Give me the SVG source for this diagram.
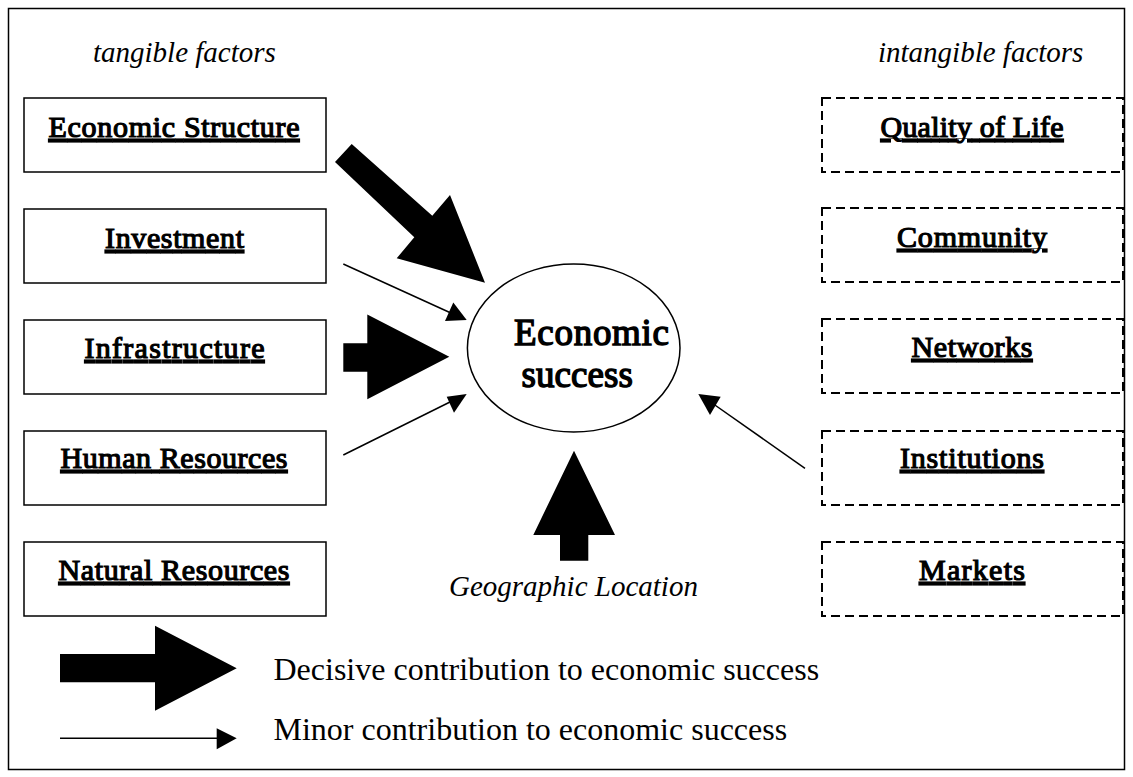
<svg xmlns="http://www.w3.org/2000/svg" width="1133" height="777" viewBox="0 0 1133 777">
<style>
text{font-family:"Liberation Serif","Times New Roman",serif;fill:#000}
.lbl{font-size:30px;text-decoration:underline;text-anchor:middle;stroke:#000;stroke-width:1.2}
.big{font-size:37px;stroke:#000;stroke-width:1.4}
.it{font-size:29px;font-style:italic}
.leg{font-size:32px}
.box{fill:#fff;stroke:#000;stroke-width:1.5}
.dbox{fill:#fff;stroke:#000;stroke-width:2;stroke-dasharray:9 5}
.thin{stroke:#000;stroke-width:1.5;fill:none}
.head{fill:#000}
</style>
<rect x="8.5" y="8.5" width="1116" height="761" fill="#fff" stroke="#000" stroke-width="1.5"/>
<text class="it" x="93" y="62">tangible factors</text>
<text class="it" x="878" y="62">intangible factors</text>
<g id="n-economic-structure"><rect class="box" x="24" y="98" width="302" height="74"/><text class="lbl" x="174" y="137" textLength="251">Economic Structure</text></g>
<g id="n-investment"><rect class="box" x="24" y="209" width="302" height="74"/><text class="lbl" x="174.5" y="248" textLength="139">Investment</text></g>
<g id="n-infrastructure"><rect class="box" x="24" y="320" width="302" height="74"/><text class="lbl" x="174.5" y="358" textLength="180">Infrastructure</text></g>
<g id="n-human-resources"><rect class="box" x="24" y="431" width="302" height="74"/><text class="lbl" x="174" y="468" textLength="227">Human Resources</text></g>
<g id="n-natural-resources"><rect class="box" x="24" y="542" width="302" height="74"/><text class="lbl" x="174" y="580" textLength="231">Natural Resources</text></g>
<g id="n-quality-of-life"><rect class="dbox" x="822" y="98" width="301" height="74"/><text class="lbl" x="972" y="137" textLength="183">Quality of Life</text></g>
<g id="n-community"><rect class="dbox" x="822" y="208" width="301" height="74"/><text class="lbl" x="972" y="247" textLength="150">Community</text></g>
<g id="n-networks"><rect class="dbox" x="822" y="319" width="301" height="74"/><text class="lbl" x="972" y="357" textLength="121">Networks</text></g>
<g id="n-institutions"><rect class="dbox" x="822" y="431" width="301" height="74"/><text class="lbl" x="972" y="468" textLength="144">Institutions</text></g>
<g id="n-markets"><rect class="dbox" x="822" y="542" width="301" height="74"/><text class="lbl" x="972" y="580" textLength="106">Markets</text></g>
<g id="n-economic-success"><ellipse cx="573.7" cy="348" rx="106.3" ry="84" fill="#fff" stroke="#000" stroke-width="1.5"/>
<text class="big" x="514" y="345" textLength="155">Economic</text>
<text class="big" x="521.5" y="386.5" textLength="111.5">success</text></g>
<g id="n-geographic-location"><text class="it" x="449" y="596">Geographic Location</text></g>
<g id="connectors">
<polygon class="head" points="335,162 351.7,144 432.3,215.7 450,195 485,282.7 396.7,258.3 414.3,237.3"/>
<line class="thin" x1="343.3" y1="264" x2="452" y2="313.5"/>
<polygon class="head" points="453.3,302.5 466.7,320 445,321"/>
<polygon class="head" points="343.3,343.3 367.3,343.3 367.3,314.5 449.3,356.7 367.3,399.3 367.3,371.7 343.3,371.7"/>
<line class="thin" x1="343.3" y1="455" x2="452" y2="401"/>
<polygon class="head" points="446.7,396.7 466.7,394 454,412.7"/>
<line class="thin" x1="805" y1="468.3" x2="712" y2="403"/>
<polygon class="head" points="698.3,394 720.7,396.7 710,415"/>
<polygon class="head" points="574,450.7 615,535 588.3,535 588.3,560.7 560,560.7 560,535 533.3,535"/>
</g>
<g id="legend">
<polygon class="head" points="60,654 155,654 155,625.7 236.7,668.3 155,710.7 155,682.3 60,682.3"/>
<text class="leg" x="273.5" y="680">Decisive contribution to economic success</text>
<line class="thin" x1="60" y1="738.3" x2="220" y2="738.3"/>
<polygon class="head" points="216.7,728.3 236.7,738.3 216.7,749.3"/>
<text class="leg" x="273.5" y="740">Minor contribution to economic success</text>
</g>
</svg>
